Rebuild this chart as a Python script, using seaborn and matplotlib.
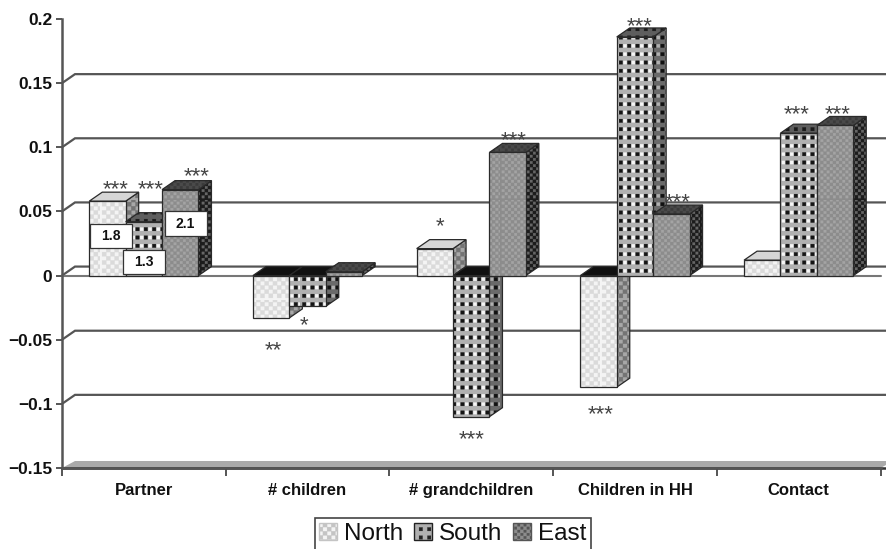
import warnings
import numpy as np
import pandas as pd
import matplotlib
matplotlib.use("Agg")
import matplotlib.pyplot as plt
import matplotlib.hatch as mhatch
from matplotlib.patches import Patch, Polygon
from matplotlib.path import Path
import seaborn as sns

warnings.filterwarnings("ignore")

categories = ["Partner", "# children", "# grandchildren", "Children in HH", "Contact"]
regions = ["North", "South", "East"]
north = [0.058, -0.033, 0.021, -0.087, 0.012]
south = [0.042, -0.024, -0.110, 0.186, 0.111]
east = [0.067, 0.003, 0.096, 0.048, 0.117]
y_ticks = [-0.15, -0.10, -0.05, 0, 0.05, 0.10, 0.15, 0.20]
y_tick_labels = ["\u22120.15", "\u22120.1", "\u22120.05", "0", "0.05", "0.1", "0.15", "0.2"]
box_labels = ["1.8", "1.3", "2.1"]
star_text = ["***", "***", "***", "**", "*", "*", "***", "***", "***", "***", "***", "***", "***"]


# Square-dot fill patterns (the stippled fills of the original chart)
class SquareGrid(mhatch.HatchPatternBase):
    char = "?"
    rows = 12
    size = 0.3
    ox = 0.0
    oy = 0.0

    def __init__(self, hatch, density):
        self.on = self.char in hatch
        self.num_vertices = (self.rows ** 2 * 5) if self.on else 0

    def set_vertices_and_codes(self, vertices, codes):
        p = 1.0 / self.rows
        s = self.size * p / 2
        k = 0
        for r in range(self.rows):
            for c in range(self.rows):
                cx = (c + 0.5 + self.ox) * p
                cy = (r + 0.5 + self.oy) * p
                vertices[k:k + 5] = [(cx - s, cy - s), (cx + s, cy - s), (cx + s, cy + s),
                                     (cx - s, cy + s), (cx - s, cy - s)]
                codes[k:k + 5] = [Path.MOVETO, Path.LINETO, Path.LINETO, Path.LINETO, Path.CLOSEPOLY]
                k += 5


def grid_type(ch, rows, size, ox=0.0, oy=0.0):
    return type("G" + ch, (SquareGrid,), dict(char=ch, rows=rows, size=size, ox=ox, oy=oy))


mhatch._hatch_types.extend([
    grid_type("k", 12, 0.42),
    grid_type("w", 12, 0.38, ox=0.5),
    grid_type("n", 12, 0.5),
    grid_type("m", 12, 0.5, ox=0.5, oy=0.5),
    grid_type("e", 16, 0.40),
    grid_type("f", 16, 0.40, ox=0.5, oy=0.5),
])

sns.set_style("white")
plt.rcParams["font.family"] = ["Liberation Sans", "DejaVu Sans"]
plt.rcParams["hatch.linewidth"] = 0.2

W, H = 887, 549
fig = plt.figure(figsize=(W / 100, H / 100), dpi=100, facecolor="white")
ax = fig.add_axes([62 / W, (H - 468) / H, 818.5 / W, 449 / H])

df = pd.DataFrame({
    "Category": np.tile(categories, 3),
    "Region": np.repeat(regions, 5),
    "Value": north + south + east,
})

FRONT = {"North": "#f4f4f4", "South": "#b0b0b0", "East": "#8c8c8c"}
sns.barplot(data=df, x="Category", y="Value", hue="Region", order=categories, hue_order=regions,
            palette=FRONT, saturation=1, width=0.667, gap=0, dodge=True, errorbar=None,
            legend=False, ax=ax, linewidth=0)

ax.set_xlim(-0.5, 4.5)
ax.set_ylim(-0.15, 0.2)
DX, DY = 13 / 163.7, 9 / 1283.0
FLOOR_DY = 7 / 1283.0
AXC = "#555555"

# back wall grid lines with the slanted link from the axis
for t in y_ticks[1:-1]:
    ax.plot([-0.5, -0.5 + DX, 4.5 + DX], [t, t + DY, t + DY], color=AXC, lw=1.6,
            clip_on=False, zorder=1, solid_joinstyle="miter")
ax.plot([-0.5, 4.5], [0, 0], color="#777777", lw=1.5, zorder=1, clip_on=False)
ax.add_patch(Polygon([(-0.5, -0.15), (4.5, -0.15), (4.5 + DX, -0.15 + FLOOR_DY), (-0.5 + DX, -0.15 + FLOOR_DY)],
                     closed=True, facecolor="#aaaaaa", edgecolor="none", clip_on=False, zorder=1.2))
ax.plot([-0.5, 4.5 + DX], [-0.15, -0.15], color="#333333", lw=1.8, clip_on=False, zorder=1.3)

# face: base colour + list of (hatch, colour) layers
SIDE = {"North": ("#a8a8a8", [("nm", "#747474")]),
        "South": ("#6a6a6a", [("w", "#b0b0b0"), ("k", "#111111")]),
        "East": ("#1c1c1c", [("ef", "#666666")])}
TOP = {"North": ("#d6d6d6", []),
       "South": ("#5e5e5e", [("k", "#1a1a1a")]),
       "East": ("#4a4a4a", [("ef", "#3a3a3a")])}
FRONT_LAYERS = {"North": [("nm", "#dadada")],
                "South": [("w", "#f6f6f6"), ("k", "#141414")],
                "East": [("ef", "#a4a4a4")]}
EDGE = "#2a2a2a"


def draw_face(pts, base, layers, z):
    ax.add_patch(Polygon(pts, closed=True, facecolor=base, edgecolor="none", lw=0, clip_on=False, zorder=z))
    for i, (h, c) in enumerate(layers):
        ax.add_patch(Polygon(pts, closed=True, facecolor="none", edgecolor=c, hatch=h, lw=0,
                             clip_on=False, zorder=z + 0.001 * (i + 1)))
    ax.add_patch(Polygon(pts, closed=True, facecolor="none", edgecolor=EDGE, lw=0.9,
                         clip_on=False, zorder=z + 0.005))


for j, (region, container) in enumerate(zip(regions, ax.containers)):
    for i, bar in enumerate(container.patches):
        x0, x1 = bar.get_x(), bar.get_x() + bar.get_width()
        v = bar.get_height() + bar.get_y()
        lo, hi = min(0, bar.get_y(), v), max(0, bar.get_y(), v)
        z = 3 + i + j * 0.1
        bar.set_visible(False)
        draw_face([(x1, lo), (x1 + DX, lo + DY), (x1 + DX, hi + DY), (x1, hi)], *SIDE[region], z)
        if lo < 0:
            draw_face([(x0, 0), (x1, 0), (x1 + DX, DY), (x0 + DX, DY)], "#111111", [], z + 0.01)
        else:
            draw_face([(x0, hi), (x1, hi), (x1 + DX, hi + DY), (x0 + DX, hi + DY)], *TOP[region], z + 0.01)
        draw_face([(x0, lo), (x1, lo), (x1, hi), (x0, hi)], FRONT[region], FRONT_LAYERS[region], z + 0.02)

# axes
for s in ["top", "right"]:
    ax.spines[s].set_visible(False)
for s in ["left", "bottom"]:
    ax.spines[s].set_color(AXC)
    ax.spines[s].set_linewidth(1.8)
    ax.spines[s].set_zorder(2)
ax.set_xlabel("")
ax.set_ylabel("")
ax.set_yticks(y_ticks)
ax.set_yticklabels(y_tick_labels, fontsize=12.5, fontweight="bold", color="#111111")
ax.set_xticks(range(5))
ax.set_xticklabels(categories, fontsize=12, fontweight="bold", color="#111111")
ax.set_xticks(np.arange(-0.5, 5), minor=True)
ax.tick_params(axis="x", which="major", length=0, pad=11)
ax.tick_params(axis="x", which="minor", length=6, width=1.4, color=AXC, bottom=True)
ax.tick_params(axis="y", length=4.5, width=1.4, color=AXC, pad=2.5, left=True)

# boxed labels on the Partner group
lab_pos = [(-0.2, 0.031), (0.0, 0.0105), (0.255, 0.0405)]
for (x, y), s in zip(lab_pos, box_labels):
    ax.text(x, y, s, ha="center", va="center", fontsize=10, fontweight="bold", color="#111111", zorder=31)
    ax.add_patch(plt.Rectangle((x - 0.128, y - 0.0095), 0.256, 0.019, facecolor="white", edgecolor="#333333",
                               lw=0.9, zorder=30, clip_on=False))

# significance stars
star_pos = [(-0.17, 0.0672), (0.04, 0.0672), (0.32, 0.0767),
            (0.79, -0.0588), (0.98, -0.0393),
            (1.81, 0.0382), (2.00, -0.1278), (2.26, 0.1052),
            (3.03, 0.1937), (2.79, -0.1083), (3.26, 0.0572),
            (3.99, 0.1257), (4.24, 0.1257)]
for (x, y), s in zip(star_pos, star_text):
    ax.text(x, y, s, ha="center", va="center", fontsize=16, color="#444444",
            zorder=32, clip_on=False)

# legend
handles = [Patch(facecolor="#f4f4f4", edgecolor="#c4c4c4", hatch="nm", lw=1.0),
           Patch(facecolor="#b0b0b0", edgecolor="#222222", hatch="k", lw=1.0),
           Patch(facecolor="#8c8c8c", edgecolor="#555555", hatch="ef", lw=1.0)]
leg = fig.legend(handles, regions, loc="center", bbox_to_anchor=(453 / W, (H - 534) / H), ncol=3,
                 fontsize=17.5, frameon=True, fancybox=False, edgecolor="#444444", framealpha=1,
                 labelcolor="#111111",
                 handlelength=0.72, handleheight=0.72, handletextpad=0.3, columnspacing=0.45,
                 borderpad=0.2, borderaxespad=0)
leg.get_frame().set_linewidth(1.2)

fig.savefig("out.png", dpi=100, facecolor="white")
